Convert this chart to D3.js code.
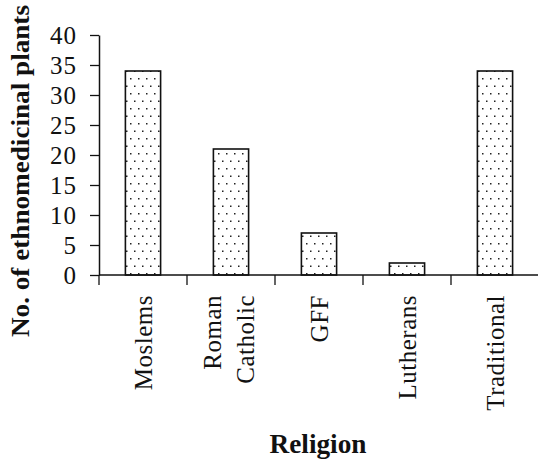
<!DOCTYPE html>
<html><head><meta charset="utf-8">
<script src="https://cdn.jsdelivr.net/npm/d3@7/dist/d3.min.js"></script>
<style>body{margin:0;background:#fff;}svg{display:block;}</style>
</head><body>
<svg id="chart" width="538" height="460"></svg>
<script>
const categories = ["Moslems", ["Roman", "Catholic"], "GFF", "Lutherans", "Traditional"];
const categoryKeys = ["Moslems", "Roman Catholic", "GFF", "Lutherans", "Traditional"];
const values = [34, 21, 7, 2, 34];
const yTicks = [0, 5, 10, 15, 20, 25, 30, 35, 40];
const yTitle = "No. of ethnomedicinal plants";
const xTitle = "Religion";

const svg = d3.select("#chart");
const W = 538, H = 460;
const mLeft = 99, mRight = 539, mTop = 35, mBottom = 275;

const defs = svg.append("defs");
const pat = defs.append("pattern").attr("id", "dots").attr("patternUnits", "userSpaceOnUse")
  .attr("width", 8).attr("height", 15);
pat.append("rect").attr("width", 8).attr("height", 15).attr("fill", "#fff");
pat.append("rect").attr("x", 2).attr("y", 3).attr("width", 1.5).attr("height", 1.5).attr("fill", "#222");
pat.append("rect").attr("x", 6).attr("y", 10.5).attr("width", 1.5).attr("height", 1.5).attr("fill", "#222");

const x = d3.scaleBand().domain(categoryKeys).range([mLeft, mRight]).paddingInner(0.6).paddingOuter(0.3);
const y = d3.scaleLinear().domain([0, 40]).range([mBottom, mTop]);

const data = categoryKeys.map((k, i) => ({ key: k, label: categories[i], value: values[i] }));

// bars
svg.append("g").selectAll("rect").data(data).join("rect")
  .attr("x", d => x(d.key))
  .attr("y", d => y(d.value))
  .attr("width", x.bandwidth())
  .attr("height", d => y(0) - y(d.value))
  .attr("fill", "url(#dots)")
  .attr("stroke", "#111")
  .attr("stroke-width", 1.6);

// y axis
const yAxis = svg.append("g").attr("transform", `translate(${mLeft},0)`)
  .call(d3.axisLeft(y).tickValues(yTicks).tickSize(9).tickPadding(13).tickSizeOuter(0));
yAxis.select(".domain").attr("stroke", "#111").attr("stroke-width", 1.5);
yAxis.selectAll(".tick line").attr("stroke", "#111").attr("stroke-width", 1.3);
yAxis.selectAll(".tick text").attr("font-family", "Liberation Serif").attr("font-size", 25)
  .attr("fill", "#111").attr("dy", "0.34em").attr("letter-spacing", 1);

// x axis line
svg.append("line").attr("x1", mLeft).attr("x2", W).attr("y1", y(0)).attr("y2", y(0))
  .attr("stroke", "#111").attr("stroke-width", 1.5);
// x axis ticks at band boundaries
const gap = (x.step() - x.bandwidth()) / 2;
svg.append("g").selectAll("line").data(categoryKeys).join("line")
  .attr("x1", d => x(d) - gap).attr("x2", d => x(d) - gap)
  .attr("y1", y(0)).attr("y2", y(0) + 10)
  .attr("stroke", "#111").attr("stroke-width", 1.3);

// x labels
const lab = svg.append("g").selectAll("g").data(data).join("g")
  .attr("transform", d => `translate(${x(d.key) + x.bandwidth() / 2},295) rotate(-90)`);
lab.each(function (d) {
  const g = d3.select(this);
  const lines = Array.isArray(d.label) ? d.label : [d.label];
  lines.forEach((t, i) => {
    g.append("text").text(t)
      .attr("x", 0)
      .attr("y", lines.length > 1 ? (i - 0.5) * 33 - 2 : 1)
      .attr("dy", "0.33em")
      .attr("text-anchor", "end")
      .attr("font-family", "Liberation Serif")
      .attr("font-size", 25)
      .attr("letter-spacing", 0.5)
      .attr("fill", "#111");
  });
});

// titles
svg.append("text").text(yTitle)
  .attr("transform", `translate(29,171) rotate(-90)`)
  .attr("text-anchor", "middle")
  .attr("font-family", "Liberation Serif").attr("font-weight", "bold")
  .attr("font-size", 25).attr("fill", "#111")
  .attr("textLength", 332).attr("lengthAdjust", "spacingAndGlyphs");

svg.append("text").text(xTitle)
  .attr("x", 318).attr("y", 453)
  .attr("text-anchor", "middle")
  .attr("font-family", "Liberation Serif").attr("font-weight", "bold")
  .attr("font-size", 27).attr("fill", "#111")
  .attr("textLength", 97).attr("lengthAdjust", "spacingAndGlyphs");
</script>
</body></html>
